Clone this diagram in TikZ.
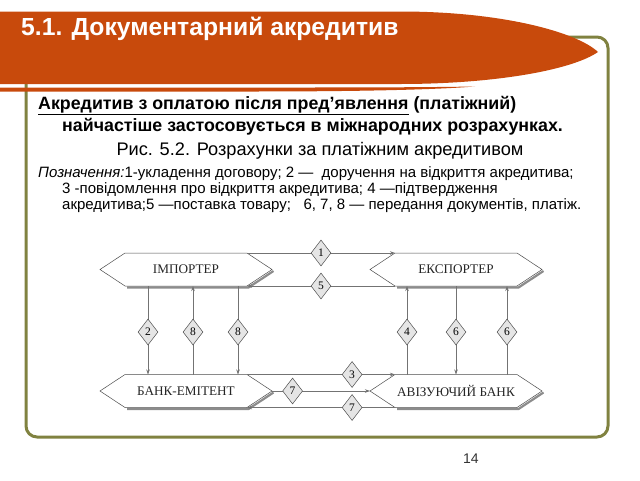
\documentclass[tikz,border=0pt]{standalone}
\usepackage{fontspec}
\setmainfont{Liberation Sans}
\newfontfamily\figfont{Liberation Serif}
\usetikzlibrary{shapes.geometric,arrows.meta,calc}

\definecolor{bannerorange}{RGB}{200,74,12}
\definecolor{frameolive}{RGB}{128,130,64}

\tikzset{
  party/.style={font=\figfont\fontsize{13.2}{15}\selectfont, text=black!85, inner sep=0.75pt},
  hexline/.style={draw=black!70, fill=white, line width=0.5pt},
  hexshadow/.style={draw=black!45, line width=2.2pt},
  link/.style={draw=black!55, line width=0.6pt},
  flow/.style={link, -{Stealth[length=5pt,width=3.5pt]}},
  tag/.style={diamond, draw=black!70, fill=black!10, line width=0.5pt, inner sep=0pt,
    minimum width=20pt, minimum height=26pt, font=\figfont\fontsize{11.5}{12}\selectfont},
  slidetext/.style={anchor=base west, inner sep=0pt},
}

% hexagon with a party name: #1 name, #2 centre, #3 text
\newcommand{\partybox}[3]{%
  \coordinate (#1-c) at (#2);
  \draw[hexshadow] ($(#1-c)+(-59,18)$) -- ($(#1-c)+(62.5,18)$) -- ($(#1-c)+(87.5,1.5)$);
  \draw[hexline] ($(#1-c)+(-86,0)$) -- ($(#1-c)+(-61,-16.5)$) -- ($(#1-c)+(61,-16.5)$)
    -- ($(#1-c)+(86,0)$) -- ($(#1-c)+(61,16.5)$) -- ($(#1-c)+(-61,16.5)$) -- cycle;
  \coordinate (#1-w) at ($(#1-c)+(-86,0)$);
  \coordinate (#1-e) at ($(#1-c)+(86,0)$);
  \coordinate (#1-nw) at ($(#1-c)+(-61,-16.5)$);
  \coordinate (#1-ne) at ($(#1-c)+(61,-16.5)$);
  \coordinate (#1-sw) at ($(#1-c)+(-61,16.5)$);
  \coordinate (#1-se) at ($(#1-c)+(61,16.5)$);
  \node[party] (#1) at (#1-c) {#3};
}

\begin{document}
\begin{tikzpicture}[x=1pt,y=1pt,yscale=-1]
\useasboundingbox (0,0) rectangle (640,480);

% slide frame
\draw[frameolive, line width=3pt, rounded corners=11pt] (26,37) rectangle (608,437);

% banner
\fill[bannerorange] (0,11.5) -- (400,11.5) .. controls (505,11.5) and (578,33) .. (598,52)
  .. controls (572,70) and (495,84) .. (400,84) -- (0,84) -- cycle;
\fill[bannerorange] (0,87.5) -- (300,87.5) .. controls (400,87.5) and (445,87) .. (475,86.5)
  .. controls (430,90) and (350,91.5) .. (250,91.5) -- (0,91.5) -- cycle;

% Text Node
\node[slidetext, text=white, font=\bfseries\fontsize{24.7}{28}\selectfont] (title) at (21,35) {5.1. Документарний акредитив};
% Text Node
\node[slidetext, font=\bfseries\fontsize{17.8}{20}\selectfont] (lead1) at (38,109) {\underline{Акредитив з оплатою після пред’явлення} (платіжний)};
\node[slidetext, font=\bfseries\fontsize{17.8}{20}\selectfont] (lead2) at (62,131) {найчастіше застосовується в міжнародних розрахунках.};
% Text Node
\node[anchor=base, inner sep=0pt, font=\fontsize{18.2}{20}\selectfont] (caption) at (320,155) {Рис. 5.2. Розрахунки за платіжним акредитивом};
% Text Node
\node[slidetext, font=\fontsize{15}{16}\selectfont] (legend1) at (38,177) {\textit{Позначення:}1-укладення договору; 2 —\ \ доручення на відкриття акредитива;};
\node[slidetext, font=\fontsize{15}{16}\selectfont] (legend2) at (62,193) {3 -повідомлення про відкриття акредитива; 4 —підтвердження};
\node[slidetext, font=\fontsize{15}{16}\selectfont] (legend3) at (62,209) {акредитива;5 —поставка товару;\ \ \ 6, 7, 8 — передання документів, платіж.};

% parties
\partybox{imp}{186,269.5}{ІМПОРТЕР}
\partybox{exp}{456,269.5}{ЕКСПОРТЕР}
\partybox{emi}{186,391}{БАНК-ЕМІТЕНТ}
\partybox{avb}{456,391}{АВІЗУЮЧИЙ БАНК}

% horizontal flows
\draw[flow] (imp-ne) -- (exp-nw) node[tag,pos=0.5]{1};
\draw[flow] (exp-sw) -- (imp-se) node[tag,pos=0.5]{5};
\draw[flow] (emi-ne) -- (avb-nw) node[tag,pos=0.71]{3};
\draw[flow] (emi-e) -- (avb-w) node[tag,pos=0.21]{7};
\draw[flow] (avb-sw) -- (emi-se) node[tag,pos=0.29]{7};

% vertical flows
\foreach \dx/\num in {23/2, 113/8}
  \draw[flow] ([xshift=\dx]imp-sw) -- ([xshift=\dx]emi-nw) node[tag,pos=0.52]{\num};
\draw[flow] ([xshift=68]emi-nw) -- ([xshift=68]imp-sw) node[tag,pos=0.48]{8};
\foreach \dx/\num in {12/4, 112/6}
  \draw[flow] ([xshift=\dx]avb-nw) -- ([xshift=\dx]exp-sw) node[tag,pos=0.48]{\num};
\draw[flow] ([xshift=61]exp-sw) -- ([xshift=61]avb-nw) node[tag,pos=0.52]{6};

% page number
\node[slidetext, font=\fontsize{14}{16}\selectfont, text=black!80] (pagenum) at (463,463) {14};
\end{tikzpicture}
\end{document}
